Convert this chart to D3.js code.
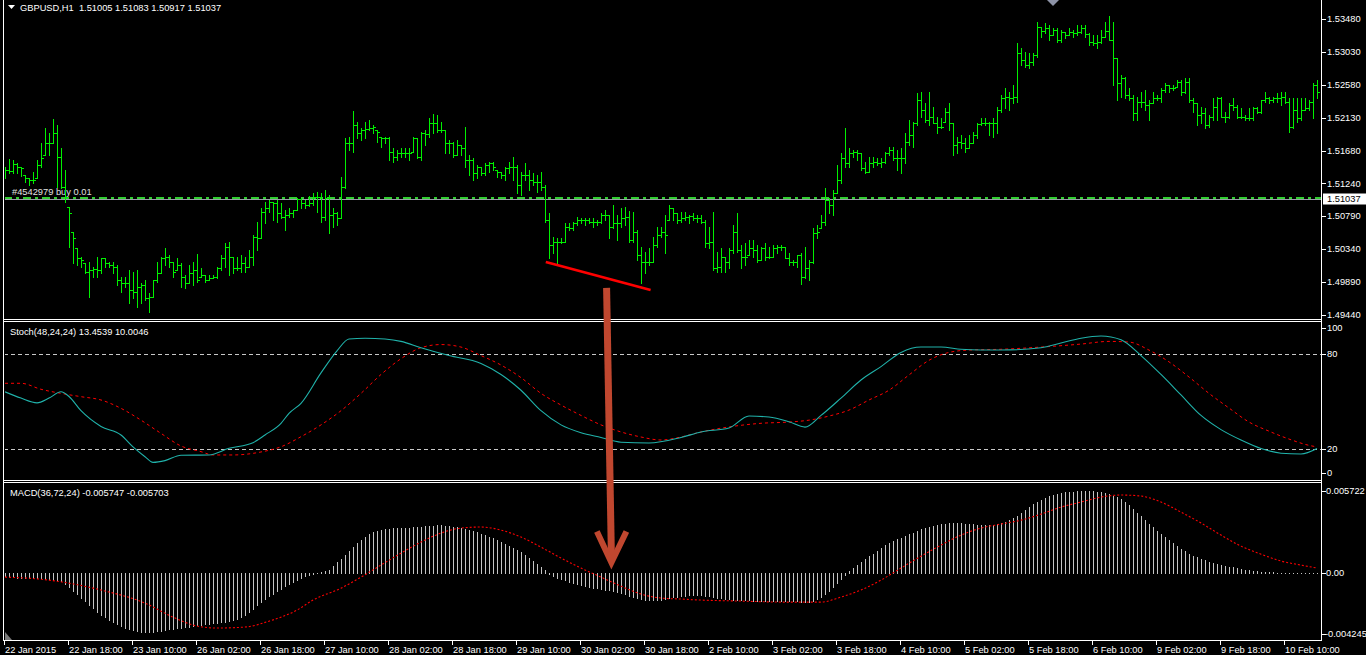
<!DOCTYPE html>
<html><head><meta charset="utf-8">
<script src="https://cdn.jsdelivr.net/npm/d3@7"></script>
<style>
body{margin:0;background:#000;overflow:hidden}
svg{display:block}
text{font-family:"Liberation Sans",Arial,sans-serif;font-size:9.3px;fill:#fff;white-space:pre}
</style></head>
<body><svg id="c" width="1366" height="655"></svg>
<script>
// ---------- DATA (GBPUSD H1, one entry per bar, bar 0 = 22 Jan 02:00) ----------
const highs=[1.51455,1.51565,1.51555,1.51519,1.51464,1.51351,1.51305,1.51396,1.51555,1.51783,
1.51988,1.51919,1.52111,1.52033,1.51715,1.51419,1.50918,1.50577,1.50350,1.50236,
1.50145,1.50168,1.50099,1.50236,1.50213,1.50213,1.50168,1.50168,1.50122,1.49963,
1.49963,1.50054,1.50031,1.50054,1.49872,1.49918,1.49735,1.49918,1.50168,1.50236,
1.50350,1.50259,1.50168,1.50213,1.50145,1.49986,1.50122,1.50168,1.50272,1.50077,
1.49986,1.49986,1.49986,1.50099,1.50259,1.50418,1.50441,1.50236,1.50236,1.50259,
1.50236,1.50327,1.50532,1.50714,1.50896,1.50987,1.51009,1.50987,1.51009,1.50964,
1.50873,1.50896,1.50873,1.51032,1.51032,1.51009,1.51064,1.51100,1.51123,1.51100,
1.51146,1.51078,1.50896,1.50850,1.51328,1.51851,1.51874,1.52224,1.52078,1.51987,
1.52078,1.52101,1.52033,1.51965,1.51874,1.51874,1.51874,1.51714,1.51692,1.51714,
1.51714,1.51714,1.51874,1.51851,1.51942,1.51965,1.52124,1.52179,1.52169,1.52078,
1.51965,1.51828,1.51806,1.51828,1.51760,1.52010,1.51623,1.51578,1.51487,1.51464,
1.51510,1.51532,1.51532,1.51419,1.51396,1.51464,1.51532,1.51601,1.51487,1.51396,
1.51510,1.51419,1.51373,1.51350,1.51396,1.51214,1.50827,1.50509,1.50486,1.50486,
1.50691,1.50691,1.50713,1.50782,1.50759,1.50759,1.50759,1.50759,1.50736,1.50827,
1.50873,1.50804,1.50941,1.50804,1.50896,1.50918,1.50859,1.50850,1.50600,1.50372,
1.50304,1.50349,1.50509,1.50645,1.50645,1.50804,1.50941,1.50895,1.50827,1.50850,
1.50850,1.50804,1.50827,1.50804,1.50804,1.50736,1.50645,1.50850,1.50304,1.50349,
1.50235,1.50349,1.50668,1.50827,1.50395,1.50417,1.50463,1.50463,1.50395,1.50372,
1.50417,1.50372,1.50395,1.50395,1.50395,1.50372,1.50281,1.50190,1.50258,1.50281,
1.50372,1.50190,1.50622,1.50668,1.50804,1.51168,1.51032,1.51145,1.51487,1.51646,
1.51987,1.51714,1.51691,1.51691,1.51646,1.51532,1.51600,1.51600,1.51578,1.51578,
1.51669,1.51737,1.51737,1.51691,1.51714,1.51919,1.52101,1.52078,1.52465,1.52488,
1.52328,1.52488,1.52283,1.52147,1.52124,1.52260,1.52328,1.52055,1.51873,1.51896,
1.51851,1.51896,1.51942,1.52055,1.52124,1.52124,1.52078,1.52124,1.52283,1.52443,
1.52534,1.52488,1.52579,1.53148,1.53080,1.53034,1.53011,1.53011,1.53444,1.53375,
1.53421,1.53398,1.53353,1.53353,1.53330,1.53307,1.53353,1.53330,1.53398,1.53398,
1.53398,1.53284,1.53262,1.53262,1.53330,1.53444,1.53521,1.53444,1.52943,1.52716,
1.52693,1.52534,1.52443,1.52420,1.52488,1.52511,1.52374,1.52488,1.52443,1.52534,
1.52602,1.52579,1.52579,1.52647,1.52647,1.52670,1.52670,1.52397,1.52329,1.52283,
1.52261,1.52170,1.52397,1.52420,1.52420,1.52215,1.52329,1.52397,1.52306,1.52261,
1.52170,1.52261,1.52283,1.52283,1.52374,1.52488,1.52420,1.52420,1.52465,1.52488,
1.52488,1.52397,1.52397,1.52397,1.52397,1.52397,1.52374,1.52602,1.52647];
const lows=[1.51305,1.51373,1.51383,1.51373,1.51337,1.51260,1.51214,1.51237,1.51305,1.51464,
1.51624,1.51624,1.51783,1.51191,1.51169,1.50987,1.50372,1.50145,1.50122,1.50099,
1.50008,1.49690,1.49963,1.49963,1.50008,1.50099,1.50099,1.50008,1.49849,1.49758,
1.49826,1.49599,1.49667,1.49553,1.49599,1.49644,1.49485,1.49690,1.49895,1.50008,
1.50122,1.50099,1.49963,1.50054,1.49826,1.49804,1.49872,1.49849,1.49895,1.49963,
1.49895,1.49918,1.49940,1.49940,1.50054,1.50099,1.49986,1.50008,1.50054,1.50031,
1.50031,1.50099,1.50122,1.50327,1.50486,1.50691,1.50850,1.50736,1.50714,1.50759,
1.50600,1.50782,1.50782,1.50873,1.50896,1.50896,1.50928,1.50941,1.50850,1.50714,
1.50736,1.50554,1.50645,1.50668,1.50759,1.51168,1.51692,1.51669,1.51851,1.51828,
1.51851,1.51965,1.51919,1.51805,1.51737,1.51783,1.51555,1.51532,1.51555,1.51601,
1.51601,1.51555,1.51669,1.51578,1.51555,1.51760,1.51874,1.51919,1.51942,1.51942,
1.51646,1.51646,1.51601,1.51623,1.51623,1.51464,1.51350,1.51282,1.51305,1.51350,
1.51350,1.51396,1.51419,1.51328,1.51305,1.51282,1.51373,1.51282,1.51100,1.51077,
1.51282,1.51146,1.51214,1.51123,1.51146,1.50713,1.50213,1.50281,1.50145,1.50418,
1.50440,1.50600,1.50600,1.50668,1.50691,1.50668,1.50691,1.50645,1.50668,1.50691,
1.50736,1.50486,1.50622,1.50463,1.50645,1.50668,1.50440,1.50440,1.50190,1.49872,
1.50008,1.50122,1.50167,1.50372,1.50508,1.50281,1.50736,1.50736,1.50690,1.50713,
1.50736,1.50690,1.50736,1.50713,1.50690,1.50372,1.50349,1.50053,1.50031,1.50031,
1.50031,1.50076,1.50281,1.50304,1.50076,1.50122,1.50258,1.50235,1.50167,1.50190,
1.50190,1.50213,1.50235,1.50281,1.50327,1.50213,1.50122,1.50122,1.50099,1.49862,
1.49940,1.49917,1.50144,1.50486,1.50622,1.50668,1.50827,1.50804,1.51100,1.51237,
1.51464,1.51464,1.51600,1.51555,1.51418,1.51373,1.51396,1.51464,1.51487,1.51464,
1.51509,1.51623,1.51555,1.51418,1.51373,1.51509,1.51760,1.51737,1.52033,1.52147,
1.52078,1.52033,1.52055,1.51919,1.51987,1.52078,1.51964,1.51623,1.51646,1.51714,
1.51669,1.51714,1.51782,1.51851,1.52033,1.52033,1.51896,1.51874,1.51919,1.52215,
1.52261,1.52238,1.52329,1.52352,1.52852,1.52829,1.52807,1.52852,1.52966,1.53239,
1.53284,1.53193,1.53262,1.53171,1.53171,1.53216,1.53262,1.53239,1.53262,1.53284,
1.53239,1.53125,1.53125,1.53080,1.53148,1.53239,1.53193,1.52579,1.52374,1.52420,
1.52397,1.52374,1.52101,1.52101,1.52283,1.52238,1.52101,1.52329,1.52374,1.52352,
1.52488,1.52488,1.52511,1.52556,1.52443,1.52465,1.52352,1.52215,1.52033,1.52056,
1.51988,1.52010,1.52101,1.52101,1.52147,1.52079,1.52124,1.52238,1.52124,1.52124,
1.52101,1.52101,1.52101,1.52193,1.52193,1.52352,1.52329,1.52352,1.52352,1.52306,
1.52329,1.51942,1.51988,1.52079,1.52101,1.52238,1.52238,1.52124,1.52397];
const closes=[1.51419,1.51410,1.51501,1.51464,1.51442,1.51305,1.51282,1.51282,1.51487,1.51578,
1.51783,1.51783,1.51919,1.51601,1.51191,1.51055,1.50828,1.50486,1.50213,1.50190,
1.50031,1.50054,1.50063,1.50054,1.50213,1.50145,1.50122,1.50099,1.49918,1.49872,
1.49872,1.49781,1.49758,1.49826,1.49849,1.49667,1.49690,1.49918,1.50008,1.50213,
1.50236,1.50168,1.50031,1.50122,1.49963,1.49872,1.50008,1.50054,1.49918,1.49986,
1.49918,1.49940,1.49963,1.50077,1.50213,1.50372,1.50236,1.50077,1.50077,1.50145,
1.50099,1.50236,1.50509,1.50486,1.50850,1.50896,1.50987,1.50964,1.50828,1.50782,
1.50805,1.50828,1.50873,1.51019,1.50964,1.50941,1.50964,1.51055,1.51046,1.50782,
1.51032,1.50800,1.50827,1.50759,1.51191,1.51783,1.51783,1.52033,1.51919,1.51965,
1.51978,1.51987,1.52010,1.51942,1.51851,1.51860,1.51669,1.51601,1.51646,1.51646,
1.51646,1.51646,1.51851,1.51601,1.51919,1.51906,1.52056,1.52056,1.51965,1.51965,
1.51783,1.51783,1.51623,1.51760,1.51714,1.51555,1.51555,1.51373,1.51464,1.51373,
1.51487,1.51510,1.51464,1.51396,1.51350,1.51441,1.51464,1.51464,1.51214,1.51350,
1.51350,1.51282,1.51259,1.51259,1.51191,1.50736,1.50395,1.50440,1.50440,1.50440,
1.50645,1.50622,1.50691,1.50736,1.50736,1.50736,1.50713,1.50713,1.50713,1.50804,
1.50804,1.50645,1.50691,1.50691,1.50759,1.50782,1.50463,1.50577,1.50258,1.50167,
1.50167,1.50167,1.50395,1.50531,1.50577,1.50531,1.50895,1.50827,1.50736,1.50759,
1.50781,1.50791,1.50759,1.50759,1.50713,1.50417,1.50440,1.50076,1.50099,1.50235,
1.50167,1.50327,1.50577,1.50327,1.50235,1.50235,1.50349,1.50327,1.50190,1.50349,
1.50235,1.50235,1.50349,1.50372,1.50372,1.50213,1.50167,1.50167,1.50258,1.49962,
1.50076,1.50167,1.50554,1.50577,1.50713,1.51009,1.50941,1.51100,1.51282,1.51578,
1.51509,1.51646,1.51669,1.51646,1.51441,1.51396,1.51509,1.51532,1.51509,1.51532,
1.51646,1.51691,1.51578,1.51578,1.51578,1.51805,1.51896,1.52055,1.52374,1.52237,
1.52101,1.52147,1.52065,1.52010,1.52010,1.52215,1.52055,1.51760,1.51805,1.51782,
1.51714,1.51782,1.51896,1.52042,1.52055,1.52055,1.52055,1.52056,1.52238,1.52397,
1.52420,1.52397,1.52420,1.53011,1.52920,1.52852,1.52898,1.52989,1.53375,1.53321,
1.53353,1.53262,1.53330,1.53193,1.53307,1.53262,1.53307,1.53284,1.53307,1.53353,
1.53275,1.53171,1.53148,1.53171,1.53239,1.53321,1.53193,1.52943,1.52602,1.52670,
1.52443,1.52397,1.52193,1.52352,1.52352,1.52306,1.52329,1.52397,1.52397,1.52511,
1.52579,1.52534,1.52534,1.52625,1.52488,1.52625,1.52374,1.52329,1.52170,1.52193,
1.52033,1.52147,1.52283,1.52397,1.52147,1.52147,1.52306,1.52283,1.52147,1.52147,
1.52124,1.52124,1.52261,1.52215,1.52374,1.52397,1.52374,1.52397,1.52397,1.52420,
1.52352,1.52010,1.52238,1.52124,1.52238,1.52261,1.52352,1.52579,1.52488];
const opens=[1.51440,1.51419,1.51410,1.51501,1.51464,1.51442,1.51305,1.51282,1.51282,1.51487,
1.51578,1.51783,1.51783,1.51919,1.51601,1.51191,1.51055,1.50828,1.50486,1.50213,
1.50190,1.50031,1.50054,1.50063,1.50054,1.50213,1.50145,1.50122,1.50099,1.49918,
1.49872,1.49872,1.49781,1.49758,1.49826,1.49849,1.49667,1.49690,1.49918,1.50008,
1.50213,1.50236,1.50168,1.50031,1.50122,1.49963,1.49872,1.50008,1.50054,1.49918,
1.49986,1.49918,1.49940,1.49963,1.50077,1.50213,1.50372,1.50236,1.50077,1.50077,
1.50145,1.50099,1.50236,1.50509,1.50486,1.50850,1.50896,1.50987,1.50964,1.50828,
1.50782,1.50805,1.50828,1.50873,1.51019,1.50964,1.50941,1.50964,1.51055,1.51046,
1.50782,1.51032,1.50800,1.50827,1.50759,1.51191,1.51783,1.51783,1.52033,1.51919,
1.51965,1.51978,1.51987,1.52010,1.51942,1.51851,1.51860,1.51669,1.51601,1.51646,
1.51646,1.51646,1.51646,1.51851,1.51601,1.51919,1.51906,1.52056,1.52056,1.51965,
1.51965,1.51783,1.51783,1.51623,1.51760,1.51714,1.51555,1.51555,1.51373,1.51464,
1.51373,1.51487,1.51510,1.51464,1.51396,1.51350,1.51441,1.51464,1.51464,1.51214,
1.51350,1.51350,1.51282,1.51259,1.51259,1.51191,1.50736,1.50395,1.50440,1.50440,
1.50440,1.50645,1.50622,1.50691,1.50736,1.50736,1.50736,1.50713,1.50713,1.50713,
1.50804,1.50804,1.50645,1.50691,1.50691,1.50759,1.50782,1.50463,1.50577,1.50258,
1.50167,1.50167,1.50167,1.50395,1.50531,1.50577,1.50531,1.50895,1.50827,1.50736,
1.50759,1.50781,1.50791,1.50759,1.50759,1.50713,1.50417,1.50440,1.50076,1.50099,
1.50235,1.50167,1.50327,1.50577,1.50327,1.50235,1.50235,1.50349,1.50327,1.50190,
1.50349,1.50235,1.50235,1.50349,1.50372,1.50372,1.50213,1.50167,1.50167,1.50258,
1.49962,1.50076,1.50167,1.50554,1.50577,1.50713,1.51009,1.50941,1.51100,1.51282,
1.51578,1.51509,1.51646,1.51669,1.51646,1.51441,1.51396,1.51509,1.51532,1.51509,
1.51532,1.51646,1.51691,1.51578,1.51578,1.51578,1.51805,1.51896,1.52055,1.52374,
1.52237,1.52101,1.52147,1.52065,1.52010,1.52010,1.52215,1.52055,1.51760,1.51805,
1.51782,1.51714,1.51782,1.51896,1.52042,1.52055,1.52055,1.52055,1.52056,1.52238,
1.52397,1.52420,1.52397,1.52420,1.53011,1.52920,1.52852,1.52898,1.52989,1.53375,
1.53321,1.53353,1.53262,1.53330,1.53193,1.53307,1.53262,1.53307,1.53284,1.53307,
1.53353,1.53275,1.53171,1.53148,1.53171,1.53239,1.53321,1.53193,1.52943,1.52602,
1.52670,1.52443,1.52397,1.52193,1.52352,1.52352,1.52306,1.52329,1.52397,1.52397,
1.52511,1.52579,1.52534,1.52534,1.52625,1.52488,1.52625,1.52374,1.52329,1.52170,
1.52193,1.52033,1.52147,1.52283,1.52397,1.52147,1.52147,1.52306,1.52283,1.52147,
1.52147,1.52124,1.52124,1.52261,1.52215,1.52374,1.52397,1.52374,1.52397,1.52397,
1.52420,1.52352,1.52010,1.52238,1.52124,1.52238,1.52261,1.52352,1.52579];

// Stochastic (48,24,24): main (%K) and signal (%D), sampled at bar indices
const stochMainIdx=[0,4,8,11,14,16,19,24,29,32,35,37,40,44,51,56,62,65,69,71,74,79,83,86,90,95,99,104,111,119,124,129,134,139,144,149,154,161,169,174,181,186,191,196,200,204,209,214,219,224,229,234,239,244,249,259,264,269,274,279,284,289,294,299,304,309,314,319,324,328];
const stochMain=[56,52,49,52,56,53,44,34,28.6,21,14.8,11.2,12.3,15.7,15.9,20.1,23.7,28.6,36,42.3,48.7,68,82,89.5,90,89.5,88,84,79,74,67,57,44,35,30,27,24,23.5,27,30.5,33,40.6,40,37,33.6,41,52,63.5,72,81,84.4,84.4,83,82.5,82.5,84,87,90,91.4,89,79,67,54,41,32,25.4,20,17,16.5,20];
const stochSigIdx=[0,4,9,14,19,24,29,34,39,44,49,52,57,64,69,74,79,84,89,94,99,104,109,114,119,124,129,134,139,144,149,154,159,164,169,174,181,189,196,201,206,211,216,221,226,231,236,241,249,259,269,276,281,286,291,296,301,306,311,316,321,326,328];
const stochSig=[61.4,61.4,57.6,55,52.9,50.8,45.5,38,29.6,21.6,18,15.9,15.9,17.8,21.1,27.5,35,44,55,67,77,84,86,84.4,79,73,65,55,47.6,41,35,30.5,27.3,25.4,27.3,30.5,33.7,36,36.8,38,40.6,44.4,50.8,57,66.7,76,81,82.5,83,84.4,86.3,88,87.6,82.5,75,65.4,55,45.7,36.8,31,26,22,21];
const stochLevels=[80,20];
const stochTicks=[100,80,20,0];

// MACD (36,72,24): histogram per bar, signal sampled at bar indices
const macdHist=[-0.00021,-0.00028,-0.00028,-0.00035,-0.00035,-0.00035,-0.00035,-0.00035,-0.00035,-0.00035,
-0.00042,-0.00042,-0.00049,-0.00049,-0.00056,-0.00077,-0.00098,-0.00125,-0.00146,-0.00174,
-0.00195,-0.00223,-0.00244,-0.00272,-0.00293,-0.00307,-0.00328,-0.00342,-0.00355,-0.00369,
-0.00383,-0.00390,-0.00397,-0.00404,-0.00411,-0.00411,-0.00411,-0.00411,-0.00404,-0.00404,
-0.00397,-0.00390,-0.00390,-0.00383,-0.00383,-0.00376,-0.00376,-0.00369,-0.00362,-0.00362,
-0.00355,-0.00355,-0.00349,-0.00349,-0.00342,-0.00342,-0.00335,-0.00328,-0.00321,-0.00307,
-0.00293,-0.00272,-0.00251,-0.00223,-0.00202,-0.00181,-0.00160,-0.00146,-0.00125,-0.00112,
-0.00091,-0.00077,-0.00063,-0.00049,-0.00035,-0.00021,-0.00014,-0.00007,0.00000,0.00007,
0.00014,0.00021,0.00049,0.00077,0.00098,0.00125,0.00153,0.00181,0.00209,0.00230,
0.00251,0.00272,0.00286,0.00293,0.00300,0.00307,0.00307,0.00314,0.00314,0.00314,
0.00314,0.00314,0.00321,0.00321,0.00321,0.00328,0.00328,0.00328,0.00335,0.00335,
0.00328,0.00328,0.00321,0.00321,0.00314,0.00307,0.00300,0.00293,0.00286,0.00272,
0.00265,0.00251,0.00244,0.00230,0.00216,0.00202,0.00188,0.00174,0.00160,0.00146,
0.00125,0.00105,0.00084,0.00063,0.00042,0.00021,-0.00007,-0.00021,-0.00035,-0.00042,
-0.00049,-0.00063,-0.00070,-0.00077,-0.00084,-0.00091,-0.00098,-0.00105,-0.00105,-0.00112,
-0.00118,-0.00118,-0.00125,-0.00132,-0.00139,-0.00146,-0.00160,-0.00167,-0.00174,-0.00181,
-0.00188,-0.00188,-0.00188,-0.00188,-0.00188,-0.00181,-0.00174,-0.00167,-0.00167,-0.00160,
-0.00160,-0.00153,-0.00153,-0.00153,-0.00153,-0.00160,-0.00160,-0.00167,-0.00174,-0.00174,
-0.00181,-0.00181,-0.00188,-0.00188,-0.00188,-0.00188,-0.00188,-0.00195,-0.00195,-0.00195,
-0.00195,-0.00195,-0.00195,-0.00195,-0.00195,-0.00195,-0.00195,-0.00195,-0.00195,-0.00202,
-0.00202,-0.00202,-0.00195,-0.00181,-0.00167,-0.00146,-0.00125,-0.00098,-0.00070,-0.00042,
-0.00014,0.00014,0.00035,0.00056,0.00077,0.00098,0.00118,0.00132,0.00153,0.00174,
0.00195,0.00209,0.00223,0.00237,0.00244,0.00258,0.00272,0.00279,0.00293,0.00307,
0.00314,0.00321,0.00328,0.00335,0.00342,0.00342,0.00349,0.00349,0.00349,0.00349,
0.00342,0.00342,0.00342,0.00335,0.00335,0.00335,0.00335,0.00335,0.00342,0.00349,
0.00355,0.00369,0.00383,0.00397,0.00418,0.00439,0.00460,0.00481,0.00495,0.00509,
0.00523,0.00537,0.00544,0.00551,0.00558,0.00565,0.00565,0.00565,0.00572,0.00572,
0.00572,0.00572,0.00572,0.00565,0.00565,0.00558,0.00551,0.00537,0.00530,0.00516,
0.00495,0.00474,0.00446,0.00418,0.00397,0.00369,0.00342,0.00321,0.00293,0.00272,
0.00251,0.00230,0.00209,0.00188,0.00167,0.00153,0.00132,0.00118,0.00112,0.00098,
0.00091,0.00077,0.00070,0.00063,0.00056,0.00049,0.00042,0.00042,0.00035,0.00028,
0.00021,0.00021,0.00014,0.00014,0.00007,0.00007,0.00007,0.00007,0.00003,0.00003,
0.00003,0.00003,0.00003,0.00003,0.00003,0.00003,0.00003,0.00003,0.00003];
const macdSigIdx=[0,11,24,35,42,48,53,60,66,73,77,84,89,94,99,104,109,114,119,124,129,134,139,144,149,154,159,164,169,174,184,194,204,209,214,219,224,229,234,239,244,249,254,259,264,269,274,279,284,289,294,299,304,309,314,319,324,328];
const macdSig=[-0.00028,-0.00049,-0.00118,-0.00209,-0.00307,-0.00369,-0.00383,-0.00376,-0.00335,-0.00258,
-0.00188,-0.00105,-0.00028,0.00056,0.00139,0.00216,0.00279,0.00314,0.00321,0.00300,
0.00251,0.00181,0.00105,0.00035,-0.00028,-0.00091,-0.00146,-0.00174,-0.00181,-0.00188,
-0.00195,-0.00202,-0.00202,-0.00167,-0.00118,-0.00049,0.00035,0.00118,0.00195,0.00265,
0.00314,0.00342,0.00369,0.00411,0.00460,0.00495,0.00530,0.00544,0.00537,0.00495,
0.00425,0.00349,0.00265,0.00188,0.00132,0.00084,0.00056,0.00035];
const macdTicks=[0.005722,0,-0.004245];
const macdTickLabels=["0.005722","0.00","-0.004245"];

// Axes
const priceTicks=[1.53480,1.53030,1.52580,1.52130,1.51680,1.51240,1.50790,1.50340,1.49890,1.49440];
const timeIdx=[0,16,32,48,64,80,96,112,128,144,160,176,192,208,224,240,256,272,288,304,320];
const timeLabels=["22 Jan 2015","22 Jan 18:00","23 Jan 10:00","26 Jan 02:00","26 Jan 18:00","27 Jan 10:00","28 Jan 02:00","28 Jan 18:00","29 Jan 10:00","30 Jan 02:00","30 Jan 18:00","2 Feb 10:00","3 Feb 02:00","3 Feb 18:00","4 Feb 10:00","5 Feb 02:00","5 Feb 18:00","6 Feb 10:00","9 Feb 02:00","9 Feb 18:00","10 Feb 10:00"];
const bidPrice=1.51037;
const headerMain="GBPUSD,H1  1.51005 1.51083 1.50917 1.51037";
const headerStoch="Stoch(48,24,24) 13.4539 10.0046";
const headerMacd="MACD(36,72,24) -0.005747 -0.005703";
const orderLabel="#4542979 buy 0.01";
// hand-drawn annotations (bar index / value anchors)
const trendBars=[135.2,161.4], trendPrices=[1.50163,1.49781];
const arrowBars=[150.4,151.6], arrowFromPrice=1.4981, arrowToMacd=0.0006;

// ---------- DRAWING ----------
const W=1366,H=655, xL=4, xR=1321;
const svg=d3.select('#c');
svg.append('rect').attr('width',W).attr('height',H).attr('fill','#000');
const n=closes.length;
const x=d3.scaleLinear().domain([0,n-1]).range([5,1317]);
const yP=d3.scaleLinear().domain([1.4944,1.5348]).range([315,19]);
const yS=d3.scaleLinear().domain([0,100]).range([480,322.5]);
const yM=d3.scaleLinear().domain([-0.004245,0.005722]).range([634,491]);
const px=i=>Math.round(x(i));

const defs=svg.append('defs');
[['cm',0,319],['cs',322,158],['cd',483,157]].forEach(([id,y0,h])=>{
  defs.append('clipPath').attr('id',id).append('rect').attr('x',xL+1).attr('y',y0).attr('width',xR-xL-1).attr('height',h);
});

// ---- main panel
const gm=svg.append('g').attr('clip-path','url(#cm)');
const yBid=Math.round(yP(bidPrice));
gm.append('line').attr('x1',xL).attr('x2',xR).attr('y1',yBid+1.5).attr('y2',yBid+1.5)
  .attr('stroke','#9aa0a8').attr('stroke-width',1).attr('shape-rendering','crispEdges');
gm.append('line').attr('x1',xL).attr('x2',xR).attr('y1',yBid).attr('y2',yBid)
  .attr('stroke','#32cd32').attr('stroke-width',2).attr('stroke-dasharray','8,4,3,4').attr('shape-rendering','crispEdges');
gm.append('text').attr('x',12).attr('y',195.3).style('fill','#e0e0e0').text(orderLabel);

const clamp=(v,a,b)=>Math.max(a,Math.min(b,v));
gm.selectAll('path.bar').data(closes).join('path').attr('class','bar')
  .attr('d',(c,i)=>{
    const X=px(i);
    const yh=Math.round(yP(highs[i])), yl=Math.round(yP(lows[i]));
    const yo=Math.round(yP(clamp(opens[i],lows[i],highs[i]))), yc=Math.round(yP(c));
    return `M${X+0.5},${yh}V${yl+1}M${X-2},${yo+0.5}H${X}M${X+1},${yc+0.5}H${X+3}`;
  })
  .attr('stroke','#00f000').attr('stroke-width',1).attr('fill','none').attr('shape-rendering','crispEdges');

// header
svg.append('path').attr('d','M8,5H15L11.5,9Z').attr('fill','#fff');
svg.append('text').attr('x',20).attr('y',11).text(headerMain);

// chart-shift marker at top and scroll marker bottom-left
svg.append('path').attr('d',`M${px(262)-6},0H${px(262)+6}L${px(262)},6Z`).attr('fill','#8d93a6');
svg.append('path').attr('d','M5,632V640H12Z').attr('fill','#7a7a7a');

// ---- stochastic panel
const gs=svg.append('g').attr('clip-path','url(#cs)');
gs.selectAll('line.lvl').data(stochLevels).join('line').attr('class','lvl')
  .attr('x1',xL).attr('x2',xR).attr('y1',d=>Math.round(yS(d))+0.5).attr('y2',d=>Math.round(yS(d))+0.5)
  .attr('stroke','#c8c8c8').attr('stroke-dasharray','4,3').attr('shape-rendering','crispEdges');
const sline=d3.line().x(d=>x(d[0])).y(d=>yS(d[1])).curve(d3.curveMonotoneX);
gs.append('path').datum(stochSigIdx.map((k,j)=>[k,stochSig[j]])).attr('d',sline)
  .attr('fill','none').attr('stroke','#ff0000').attr('stroke-width',1).attr('stroke-dasharray','3,3');
gs.append('path').datum(stochMainIdx.map((k,j)=>[k,stochMain[j]])).attr('d',sline)
  .attr('fill','none').attr('stroke','#20b2aa').attr('stroke-width',1.1);
svg.append('text').attr('x',10).attr('y',335).text(headerStoch);

// ---- MACD panel
const gd=svg.append('g').attr('clip-path','url(#cd)');
const y0=Math.round(yM(0));
gd.selectAll('line.h').data(macdHist).join('line').attr('class','h')
  .attr('x1',(v,i)=>px(i)+0.5).attr('x2',(v,i)=>px(i)+0.5)
  .attr('y1',v=>v>=0?y0+1:y0).attr('y2',v=>v>=0?Math.round(yM(v)):Math.round(yM(v))+1)
  .attr('stroke','#c4c4c4').attr('stroke-width',1).attr('shape-rendering','crispEdges');
const mline=d3.line().x(d=>x(d[0])).y(d=>yM(d[1])).curve(d3.curveMonotoneX);
gd.append('path').datum(macdSigIdx.map((k,j)=>[k,macdSig[j]])).attr('d',mline)
  .attr('fill','none').attr('stroke','#ff0000').attr('stroke-width',1.1).attr('stroke-dasharray','2,2');
svg.append('text').attr('x',10).attr('y',495.5).text(headerMacd);

// ---- frame lines
const fr=svg.append('g').attr('stroke','#fff').attr('stroke-width',1).attr('shape-rendering','crispEdges');
fr.append('line').attr('x1',xL-0.5).attr('x2',xL-0.5).attr('y1',0).attr('y2',641);
fr.append('line').attr('x1',xR+0.5).attr('x2',xR+0.5).attr('y1',0).attr('y2',641);
[319.5,321.5,480.5,482.5,640.5].forEach(yy=>fr.append('line').attr('x1',xL-0.5).attr('x2',xR+0.5).attr('y1',yy).attr('y2',yy));

// ---- right price axis
const ax=svg.append('g');
ax.selectAll('line.pt').data(priceTicks).join('line').attr('class','pt')
  .attr('x1',xR+1).attr('x2',xR+5).attr('y1',d=>Math.round(yP(d))+0.5).attr('y2',d=>Math.round(yP(d))+0.5)
  .attr('stroke','#fff').attr('shape-rendering','crispEdges');
ax.selectAll('text.pt').data(priceTicks).join('text').attr('class','pt')
  .attr('x',xR+6).attr('y',d=>yP(d)+3.4).text(d=>d.toFixed(5));
// current price box
const yb=yP(bidPrice)+1;
ax.append('rect').attr('x',xR+2).attr('y',Math.round(yb)-5.5).attr('width',W-xR-2).attr('height',11).attr('fill','#fff');
ax.append('text').attr('x',xR+6).attr('y',yb+3.4).style('fill','#000').text(bidPrice.toFixed(5));

// stoch axis
const sy=v=>clamp(yS(v),328,473);
ax.selectAll('line.st').data(stochTicks).join('line').attr('class','st')
  .attr('x1',xR+1).attr('x2',xR+5).attr('y1',d=>Math.round(sy(d))+0.5).attr('y2',d=>Math.round(sy(d))+0.5)
  .attr('stroke','#fff').attr('shape-rendering','crispEdges');
ax.selectAll('text.st').data(stochTicks).join('text').attr('class','st')
  .attr('x',xR+6).attr('y',d=>sy(d)+3.4).text(d=>d);

// macd axis
const my=v=>clamp(yM(v),491,634);
ax.selectAll('line.mt').data(macdTicks).join('line').attr('class','mt')
  .attr('x1',xR+1).attr('x2',xR+5).attr('y1',d=>Math.round(my(d))+0.5).attr('y2',d=>Math.round(my(d))+0.5)
  .attr('stroke','#fff').attr('shape-rendering','crispEdges');
ax.selectAll('text.mt').data(macdTicks).join('text').attr('class','mt')
  .attr('x',(d,i)=>i==2?xR+4:xR+5).attr('y',d=>my(d)+3.4).text((d,i)=>macdTickLabels[i]);

// time axis
ax.selectAll('line.tt').data(timeIdx).join('line').attr('class','tt')
  .attr('x1',d=>px(d)-0.5).attr('x2',d=>px(d)-0.5).attr('y1',641).attr('y2',645)
  .attr('stroke','#fff').attr('shape-rendering','crispEdges');
ax.selectAll('text.tt').data(timeIdx).join('text').attr('class','tt')
  .attr('x',d=>px(d)).attr('y',653).text((d,i)=>timeLabels[i]);

// ---- annotations: red trend line and arrow
svg.append('line').attr('x1',x(trendBars[0])).attr('y1',yP(trendPrices[0])).attr('x2',x(trendBars[1])).attr('y2',yP(trendPrices[1]))
  .attr('stroke','#ff0000').attr('stroke-width',2.6);
const ax0=x(arrowBars[0]), ay0=yP(arrowFromPrice), ax1=x(arrowBars[1]), ay1=yM(arrowToMacd);
svg.append('line').attr('x1',ax0).attr('y1',ay0).attr('x2',ax1).attr('y2',ay1-8)
  .attr('stroke','#c0472f').attr('stroke-width',7);
svg.append('path').attr('d',`M${ax1-14.5},${ay1-33}L${ax1},${ay1-2}L${ax1+15},${ay1-33}`)
  .attr('fill','none').attr('stroke','#c0472f').attr('stroke-width',6).attr('stroke-linejoin','miter');
</script>
</body></html>
